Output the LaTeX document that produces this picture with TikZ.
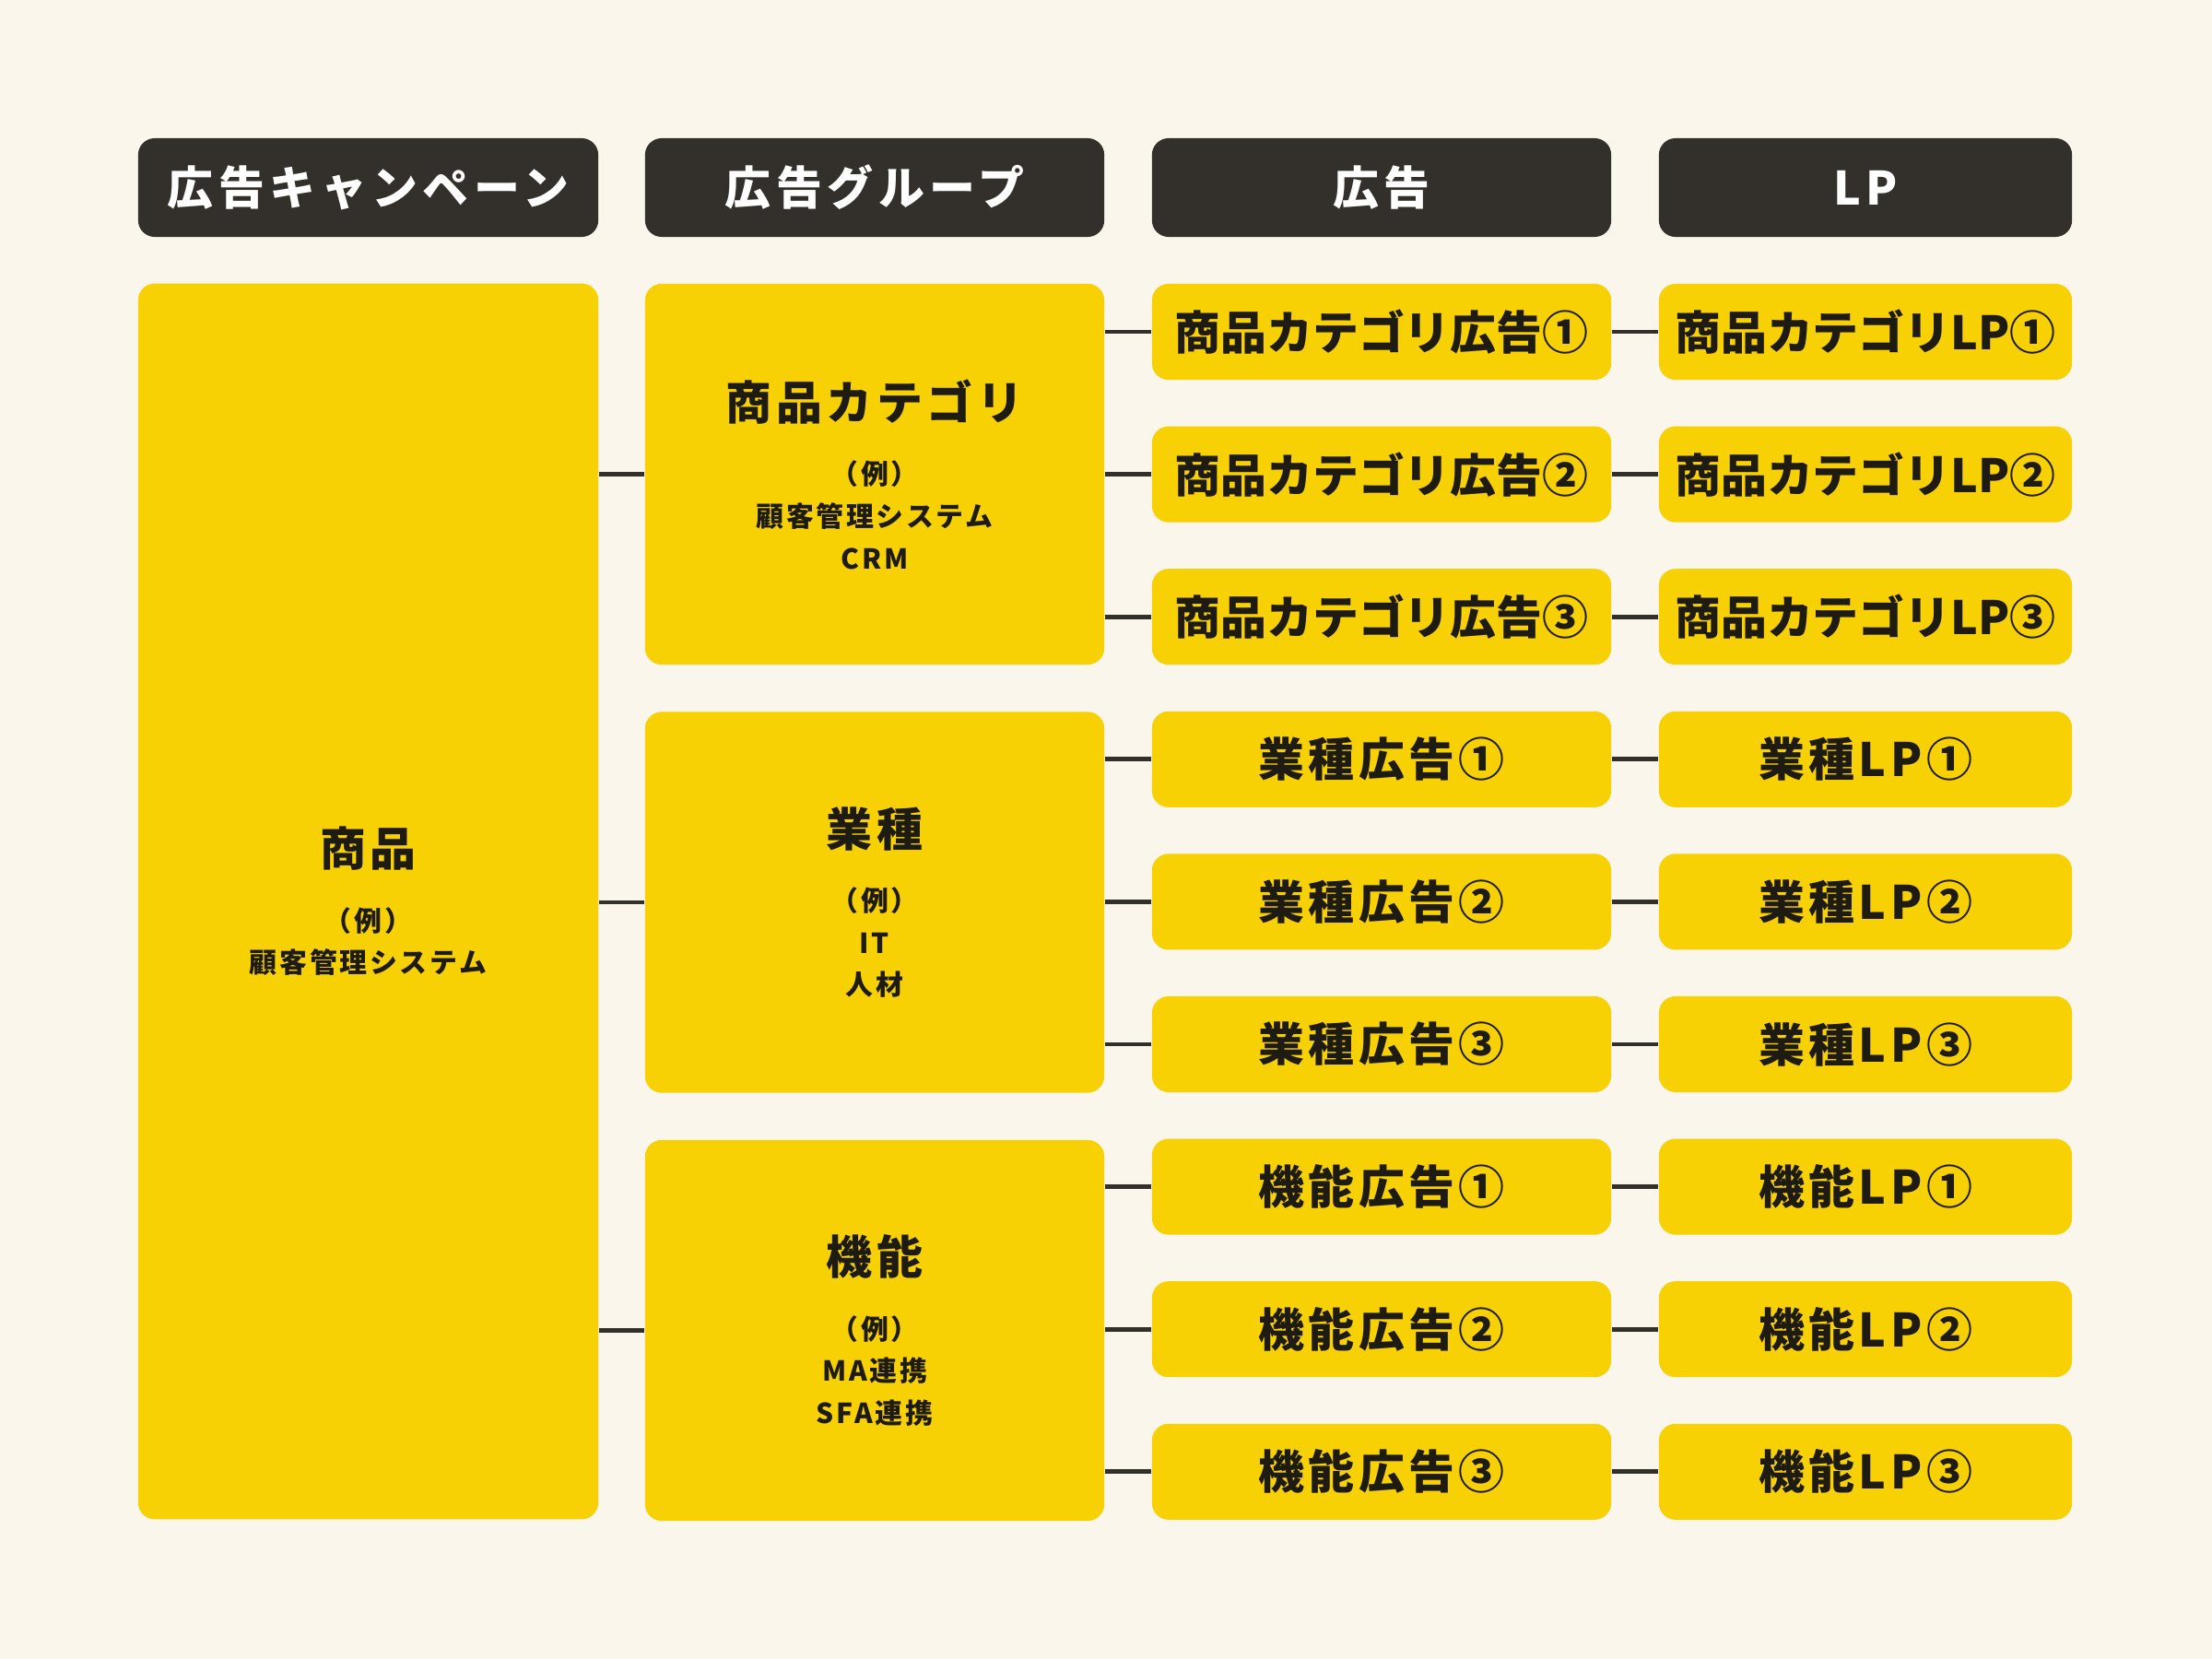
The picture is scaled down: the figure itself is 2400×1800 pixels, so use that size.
\documentclass[tikz,border=0pt]{standalone}
\usepackage{fontspec}
\setmainfont{Noto Sans CJK JP}
\newfontfamily\headfont{Noto Sans CJK JP}[LetterSpace=11]
\newfontfamily\boxfont{Noto Sans CJK JP}[LetterSpace=9]
\newfontfamily\tightfont{Noto Sans CJK JP}
\newfontfamily\notefont{Noto Sans CJK JP}[LetterSpace=9]

\definecolor{bgcream}{HTML}{FAF6EB}
\definecolor{adyellow}{HTML}{F8D104}
\definecolor{headdark}{HTML}{33302B}
\definecolor{inkdark}{HTML}{1E1B12}

\newcommand{\titletext}[1]{{\boxfont\bfseries\fontsize{14.2}{17}\selectfont #1}}

\tikzset{
  headbox/.style={fill=headdark, text=white, rounded corners=0.18cm,
    minimum height=1.07cm, inner sep=0pt,
    font=\headfont\bfseries\fontsize{14.2}{17}\selectfont},
  bigbox/.style={fill=adyellow, text=inkdark, rounded corners=0.18cm,
    inner sep=0pt, align=center,
    font=\notefont\bfseries\fontsize{8.5}{13}\selectfont},
  adbox/.style={fill=adyellow, text=inkdark, rounded corners=0.18cm,
    minimum height=1.04cm, inner sep=0pt,
    font=\boxfont\bfseries\fontsize{14.2}{17}\selectfont},
  adlong/.style={adbox, font=\tightfont\bfseries\fontsize{14.2}{17}\selectfont},
  link/.style={draw=headdark, line width=1.4pt}
}

\begin{document}
\begin{tikzpicture}[x=0.01cm, y=-0.01cm]

  % Background
  \fill[bgcream] (0,0) rectangle (2400,1800);

  % Column headers
  \node[headbox, minimum width=4.99cm] (hcamp) at (399.5,203.5) {広告キャンペーン};
  \node[headbox, minimum width=4.98cm] (hgroup) at (949,203.5) {広告グループ};
  \node[headbox, minimum width=4.98cm] (had) at (1499,203.5) {広告};
  \node[headbox, minimum width=4.48cm] (hlp) at (2024,203.5) {LP};

  % Campaign
  \node[bigbox, minimum width=4.99cm, minimum height=13.40cm] (prod) at (399.5,978)
    {\titletext{商品}\\[7pt]（例）\\顧客管理システム};

  % Ad groups
  \node[bigbox, minimum width=4.98cm, minimum height=4.13cm] (gcat) at (949,514.5)
    {\titletext{商品カテゴリ}\\[7pt]（例）\\顧客管理システム\\CRM};
  \node[bigbox, minimum width=4.98cm, minimum height=4.13cm] (gind) at (949,979)
    {\titletext{業種}\\[7pt]（例）\\IT\\人材};
  \node[bigbox, minimum width=4.98cm, minimum height=4.13cm] (gfun) at (949,1443.5)
    {\titletext{機能}\\[7pt]（例）\\MA連携\\SFA連携};

  % Ads
  \node[adlong, minimum width=4.98cm] (ad1) at (1499,360) {商品カテゴリ広告①};
  \node[adlong, minimum width=4.98cm] (ad2) at (1499,514.6) {商品カテゴリ広告②};
  \node[adlong, minimum width=4.98cm] (ad3) at (1499,669.2) {商品カテゴリ広告③};
  \node[adbox, minimum width=4.98cm] (ad4) at (1499,823.8) {業種広告①};
  \node[adbox, minimum width=4.98cm] (ad5) at (1499,978.4) {業種広告②};
  \node[adbox, minimum width=4.98cm] (ad6) at (1499,1133) {業種広告③};
  \node[adbox, minimum width=4.98cm] (ad7) at (1499,1287.6) {機能広告①};
  \node[adbox, minimum width=4.98cm] (ad8) at (1499,1442.2) {機能広告②};
  \node[adbox, minimum width=4.98cm] (ad9) at (1499,1596.8) {機能広告③};

  % Landing pages
  \node[adlong, minimum width=4.48cm] (lp1) at (2024,360) {商品カテゴリLP①};
  \node[adlong, minimum width=4.48cm] (lp2) at (2024,514.6) {商品カテゴリLP②};
  \node[adlong, minimum width=4.48cm] (lp3) at (2024,669.2) {商品カテゴリLP③};
  \node[adbox, minimum width=4.48cm] (lp4) at (2024,823.8) {業種LP①};
  \node[adbox, minimum width=4.48cm] (lp5) at (2024,978.4) {業種LP②};
  \node[adbox, minimum width=4.48cm] (lp6) at (2024,1133) {業種LP③};
  \node[adbox, minimum width=4.48cm] (lp7) at (2024,1287.6) {機能LP①};
  \node[adbox, minimum width=4.48cm] (lp8) at (2024,1442.2) {機能LP②};
  \node[adbox, minimum width=4.48cm] (lp9) at (2024,1596.8) {機能LP③};

  % Campaign -> groups
  \draw[link] (prod.east |- gcat) -- (gcat.west);
  \draw[link] (prod.east |- gind) -- (gind.west);
  \draw[link] (prod.east |- gfun) -- (gfun.west);

  % Groups -> ads
  \draw[link] (gcat.east |- ad1) -- (ad1.west);
  \draw[link] (gcat.east |- ad2) -- (ad2.west);
  \draw[link] (gcat.east |- ad3) -- (ad3.west);
  \draw[link] (gind.east |- ad4) -- (ad4.west);
  \draw[link] (gind.east |- ad5) -- (ad5.west);
  \draw[link] (gind.east |- ad6) -- (ad6.west);
  \draw[link] (gfun.east |- ad7) -- (ad7.west);
  \draw[link] (gfun.east |- ad8) -- (ad8.west);
  \draw[link] (gfun.east |- ad9) -- (ad9.west);

  % Ads -> LPs
  \draw[link] (ad1) -- (lp1);
  \draw[link] (ad2) -- (lp2);
  \draw[link] (ad3) -- (lp3);
  \draw[link] (ad4) -- (lp4);
  \draw[link] (ad5) -- (lp5);
  \draw[link] (ad6) -- (lp6);
  \draw[link] (ad7) -- (lp7);
  \draw[link] (ad8) -- (lp8);
  \draw[link] (ad9) -- (lp9);

\end{tikzpicture}
\end{document}
